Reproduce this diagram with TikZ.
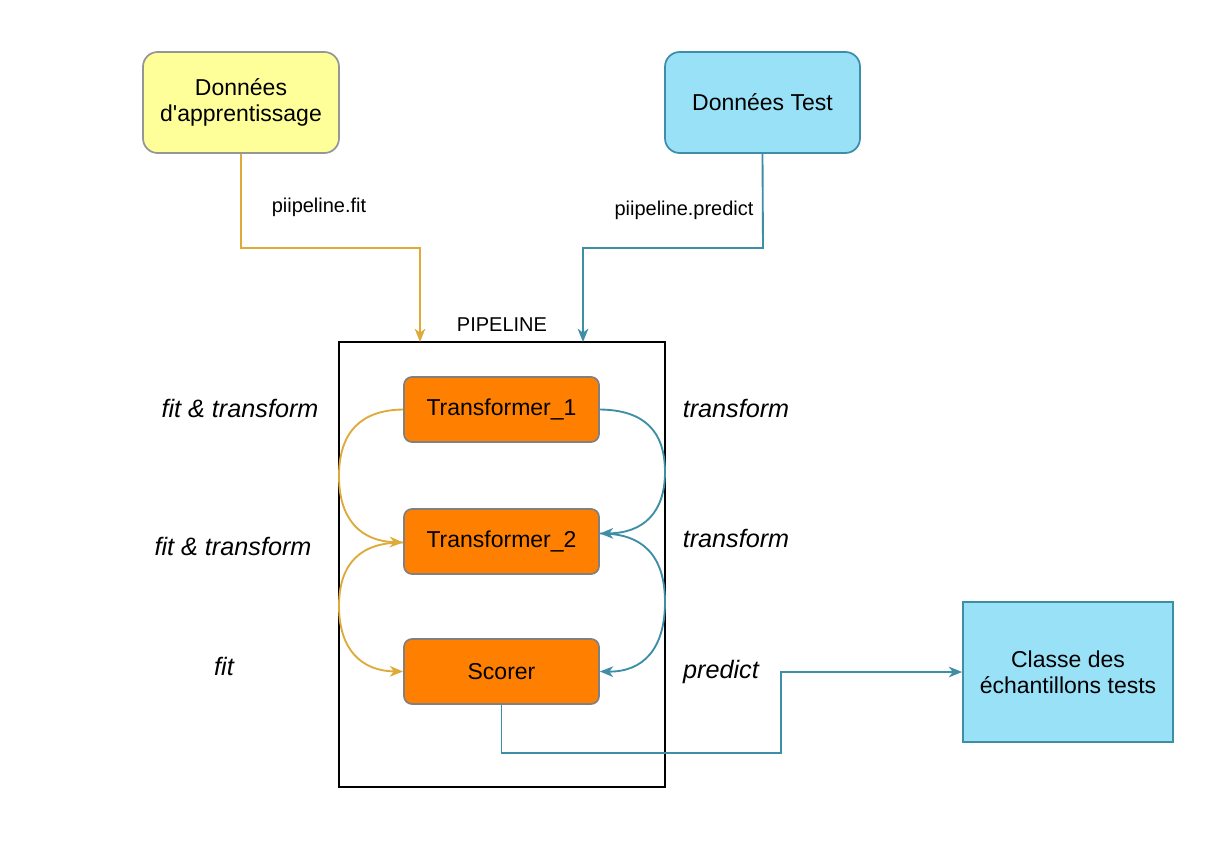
\documentclass[tikz,border=0pt]{standalone}
\usepackage{fontspec}
\setmainfont{Liberation Sans}
\usetikzlibrary{arrows.meta}
\definecolor{yfill}{RGB}{255,255,153}
\definecolor{ystroke}{RGB}{150,150,150}
\definecolor{bfill}{RGB}{153,225,247}
\definecolor{bstroke}{RGB}{62,142,168}
\definecolor{ofill}{RGB}{255,128,0}
\definecolor{ostroke}{RGB}{128,128,128}
\definecolor{yline}{RGB}{222,170,58}
\definecolor{bline}{RGB}{62,142,168}
\tikzset{
  box/.style={draw, line width=1.3pt, rounded corners=11pt, align=center, inner sep=0pt, font=\fontsize{17.25}{19.5}\selectfont},
  ybox/.style={box, fill=yfill, draw=ystroke, minimum width=147pt, minimum height=75.75pt},
  bbox/.style={box, fill=bfill, draw=bstroke, minimum width=146.25pt, minimum height=75.75pt},
  obox/.style={box, fill=ofill, draw=ostroke, rounded corners=6pt, minimum width=146.25pt, minimum height=48.75pt},
  cbox/.style={box, fill=bfill, draw=bstroke, rounded corners=0pt, minimum width=157.5pt, minimum height=105pt},
  small/.style={font=\fontsize{15}{18}\selectfont, inner sep=0pt},
  ital/.style={font=\fontsize{18.9}{22}\selectfont\itshape, inner sep=0pt},
  tip/.style={-{Stealth[length=10pt,width=8pt,inset=3pt]}},
  yarrow/.style={draw=yline, line width=1.4pt, tip, yline},
  barrow/.style={draw=bline, line width=1.4pt, tip, bline},
}
\begin{document}
\begin{tikzpicture}[x=0.75pt,y=-0.75pt]
\useasboundingbox (0,0) rectangle (1207,850);
% pipeline frame
\node[draw=black, line width=1.4pt, minimum width=244.5pt, minimum height=333.75pt, inner sep=0pt] (pipe) at (502,564.5) {};
\node[small] (pipelbl) at (502,325) {PIPELINE};
% top boxes
\node[ybox] (train) at (241,102.5) {Données\\d\textquotesingle apprentissage};
\node[bbox] (test) at (762.5,102.5) {Données Test};
% inner boxes
\node[obox] (t1) at (501.5,409.5) {Transformer\_1};
\node[obox] (t2) at (501.5,541.5) {Transformer\_2};
\node[obox] (sc) at (501.5,671.5) {Scorer};
% output box
\node[cbox] (cls) at (1068,672) {Classe des\\échantillons tests};
% labels
\node[small] (lfit) at (319,207) {piipeline.fit};
\node[small] (lpred) at (684,210) {piipeline.predict};
\node[ital] (l1) at (240,408) {fit \& transform};
\node[ital] (l2) at (233,546) {fit \& transform};
\node[ital] (l3) at (224,666) {fit};
\node[ital] (r1) at (736,408) {transform};
\node[ital] (r2) at (736,538) {transform};
\node[ital] (r3) at (721,672) {predict};
% coordinates
\coordinate (fitin) at (420,342);
\coordinate (predin) at (583,342);
% top connectors
\draw[yarrow] (train.south) -- (241,248) -- (420,248) -- (fitin);
\draw[barrow] (test.south) -- (763,248) -- (583,248) -- (predin);
% yellow curves (quadratic-like)
\draw[yarrow] (t1.west) .. controls (361,410) and (339,432) .. (339,476) .. controls (339,520) and (361,541) .. ([yshift=-0.75pt]t2.west);
\draw[yarrow] ([yshift=-0.75pt]t2.west) .. controls (361,542) and (339,563) .. (339,606) .. controls (339,649) and (361,671) .. (sc.west);
% blue curves
\draw[barrow] (t1.east) .. controls (643,410) and (665,430) .. (665,472) .. controls (665,513) and (643,533) .. ([yshift=6pt]t2.east);
\draw[barrow] ([yshift=6pt]t2.east) .. controls (643,533) and (665,556) .. (665,602) .. controls (665,649) and (643,672) .. (sc.east);
% output connector
\draw[barrow] (sc.south) -- (501.5,753) -- (781,753) -- (781,672) -- (cls.west);
\end{tikzpicture}
\end{document}
